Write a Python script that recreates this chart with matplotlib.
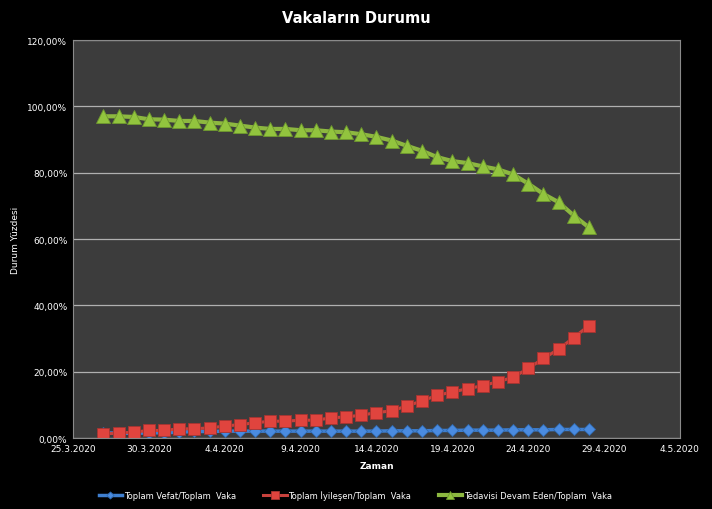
import matplotlib
matplotlib.use("Agg")
import matplotlib.pyplot as plt
from matplotlib.ticker import FuncFormatter
import pandas as pd

dates = pd.date_range("2020-03-27", "2020-04-28", freq="D")

vefat = [1.6, 1.5, 1.4, 1.6, 1.6, 1.8, 2.0, 2.0, 2.1, 2.1, 2.1, 2.1, 2.1, 2.1, 2.1,
         2.1, 2.1, 2.1, 2.1, 2.2, 2.2, 2.2, 2.3, 2.3, 2.4, 2.4, 2.4, 2.5, 2.5, 2.5,
         2.6, 2.6, 2.6]
iyilesen = [1.3, 1.5, 1.8, 2.3, 2.3, 2.8, 2.8, 3.1, 3.6, 4.1, 4.6, 5.1, 5.1, 5.4, 5.4,
            6.1, 6.4, 6.9, 7.7, 8.2, 9.7, 11.2, 12.9, 13.9, 14.9, 15.8, 17.0, 18.3,
            21.0, 24.0, 26.8, 30.3, 33.9]
tedavi = [97.0, 97.0, 96.8, 96.1, 96.0, 95.6, 95.6, 95.1, 94.8, 94.2, 93.6, 93.2, 93.2,
          92.8, 92.8, 92.4, 92.2, 91.6, 90.8, 89.7, 88.1, 86.6, 84.7, 83.5, 82.9, 81.9,
          81.0, 79.5, 76.7, 73.6, 71.1, 67.1, 63.5]

labels = ["Toplam Vefat/Toplam  Vaka", "Toplam İyileşen/Toplam  Vaka",
          "Tedavisi Devam Eden/Toplam  Vaka"]

plt.rcParams['font.family'] = ['DejaVu Sans']

fig = plt.figure(figsize=(7.12, 5.10), dpi=100, facecolor="black")
ax = fig.add_axes([0.1025, 0.139, 0.8525, 0.7806])
ax.set_facecolor("#3c3c3c")

ax.plot(dates, vefat, color="#3f7fcf", lw=2.5, marker="D", ms=6,
        markerfacecolor="#4a8be0", markeredgecolor="#2f6ab0", mew=0.6, label=labels[0])
ax.plot(dates, iyilesen, color="#c8413c", lw=2.2, marker="s", ms=8.5,
        markerfacecolor="#e0443e", markeredgecolor="#a83430", mew=0.6, label=labels[1])
ax.plot(dates, tedavi, color="#8db840", lw=3, marker="^", ms=10,
        markerfacecolor="#92c43e", markeredgecolor="#6f9a2e", mew=0.6, label=labels[2])

ax.set_ylim(0, 120)
ax.set_yticks(range(0, 121, 20))
ax.yaxis.set_major_formatter(FuncFormatter(lambda v, p: f"{v:.2f}".replace(".", ",") + "%"))
ax.set_xlim(pd.Timestamp("2020-03-25"), pd.Timestamp("2020-05-04"))
ticks = pd.date_range("2020-03-25", "2020-05-04", freq="5D")
ax.set_xticks(ticks)
ax.set_xticklabels([f"{d.day}.{d.month}.{d.year}" for d in ticks])

ax.grid(axis="y", color="#b0b0b0", lw=0.9)
ax.set_axisbelow(True)
for s in ax.spines.values():
    s.set_color("#8a8a8a")
ax.tick_params(colors="white", labelsize=6.5, length=0, pad=4)

fig.text(0.5, 0.964, "Vakaların Durumu", color="white", fontsize=10.5,
         fontweight="bold", ha="center", va="center")
ax.set_xlabel("Zaman", color="white", fontsize=6.5, fontweight="bold", labelpad=6)
ax.set_ylabel("Durum Yüzdesi", color="white", fontsize=6.5)
ax.yaxis.set_label_coords(-0.087, 0.5)

leg = fig.legend(loc="center", bbox_to_anchor=(0.499, 0.027), ncol=3, frameon=False,
                 fontsize=6.0, labelcolor="white", handlelength=2.8, columnspacing=3.3,
                 handletextpad=0.2, markerscale=0.6)
fig.savefig("out.png", dpi=100, facecolor="black")
